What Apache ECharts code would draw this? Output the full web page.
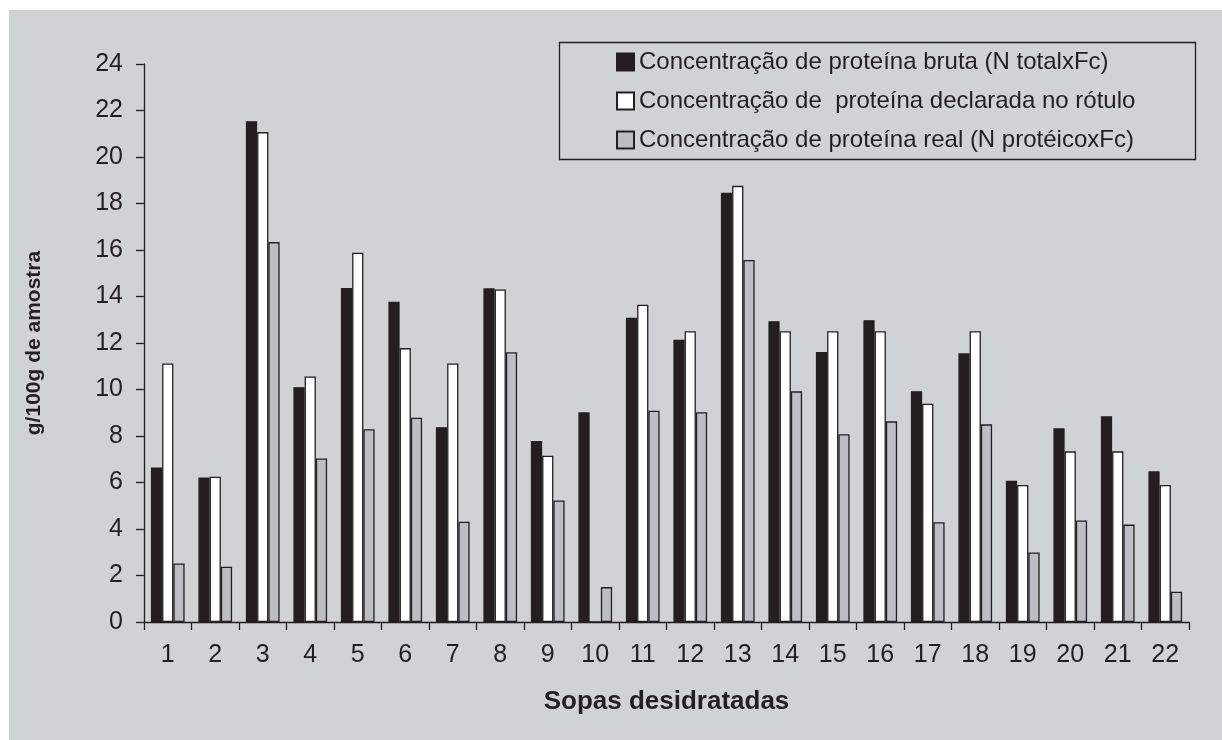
<!DOCTYPE html>
<html>
<head>
<meta charset="utf-8">
<script src="https://cdn.jsdelivr.net/npm/echarts@6/dist/echarts.min.js"></script>
<style>
html,body{margin:0;padding:0;background:#fff;}
#chart{width:1222px;height:740px;}
</style>
</head>
<body>
<div id="chart"></div>
<script>
const categories = ['1','2','3','4','5','6','7','8','9','10','11','12','13','14','15','16','17','18','19','20','21','22'];
const seriesNames = [
  'Concentração de proteína bruta (N totalxFc)',
  'Concentração de  proteína declarada no rótulo',
  'Concentração de proteína real (N protéicoxFc)'
];
const bruta = [6.65, 6.22, 21.54, 10.1, 14.37, 13.77, 8.38, 14.35, 7.79, 9.02, 13.09, 12.14, 18.46, 12.94, 11.61, 12.98, 9.93, 11.56, 6.07, 8.33, 8.85, 6.48];
const declarada = [11.12, 6.25, 21.07, 10.56, 15.88, 11.78, 11.12, 14.3, 7.15, 0, 13.65, 12.51, 18.76, 12.51, 12.51, 12.51, 9.39, 12.51, 5.89, 7.34, 7.34, 5.89];
const real = [2.52, 2.38, 16.34, 7.03, 8.29, 8.79, 4.31, 11.6, 5.23, 1.5, 9.09, 9.02, 15.57, 9.92, 8.08, 8.63, 4.29, 8.5, 2.99, 4.37, 4.19, 1.3];
const yTicks = [0, 2, 4, 6, 8, 10, 12, 14, 16, 18, 20, 22, 24];

const ink = '#231f20';
const font = '"Liberation Sans", Arial, sans-serif';
const chart = echarts.init(document.getElementById('chart'), null, {renderer: 'canvas'});

function mk(name, data, color) {
  return {
    name: name, type: 'bar', data: data,
    barGap: '0%', barCategoryGap: '29%',
    itemStyle: {color: color, borderColor: ink, borderWidth: 1.3},
    emphasis: {disabled: true}
  };
}

chart.setOption({
  animation: false,
  backgroundColor: '#ffffff',
  textStyle: {fontFamily: font, color: ink},
  graphic: [{
    type: 'rect', z: -10, silent: true,
    shape: {x: 9, y: 10, width: 1213, height: 730},
    style: {fill: '#d1d2d4'}
  }, {
    type: 'rect', z: 1, silent: true,
    shape: {x: 559.5, y: 42.5, width: 636, height: 117},
    style: {fill: null, stroke: ink, lineWidth: 1.3}
  }],
  grid: {left: 144, right: 33, top: 64, bottom: 118, containLabel: false},
  legend: {
    orient: 'vertical', left: 616, top: 50,
    padding: 0,
    itemWidth: 17, itemHeight: 17, itemGap: 15,
    icon: 'rect',
    selectedMode: false,
    textStyle: {fontFamily: font, fontSize: 24, color: ink, lineHeight: 24},
    data: seriesNames
  },
  xAxis: {
    type: 'category', data: categories,
    name: 'Sopas desidratadas', nameLocation: 'middle', nameGap: 67,
    nameTextStyle: {fontFamily: font, fontSize: 26, fontWeight: 'bold', color: ink},
    axisLine: {lineStyle: {color: ink, width: 1.3}},
    axisTick: {show: true, length: 8, inside: false, lineStyle: {color: ink, width: 1.3}},
    axisLabel: {fontFamily: font, fontSize: 25, color: ink, margin: 21}
  },
  yAxis: {
    type: 'value', min: yTicks[0], max: yTicks[yTicks.length-1], interval: 2,
    name: 'g/100g de amostra', nameLocation: 'middle', nameGap: 99, nameRotate: 90,
    nameTextStyle: {fontFamily: font, fontSize: 21, fontWeight: 'bold', color: ink},
    axisLine: {show: true, lineStyle: {color: ink, width: 1.3}},
    axisTick: {show: true, length: 8, lineStyle: {color: ink, width: 1.3}},
    splitLine: {show: false},
    axisLabel: {fontFamily: font, fontSize: 25, color: ink, margin: 21}
  },
  series: [
    mk(seriesNames[0], bruta, ink),
    mk(seriesNames[1], declarada, '#ffffff'),
    mk(seriesNames[2], real, '#bdbec2')
  ]
});
</script>
</body>
</html>
